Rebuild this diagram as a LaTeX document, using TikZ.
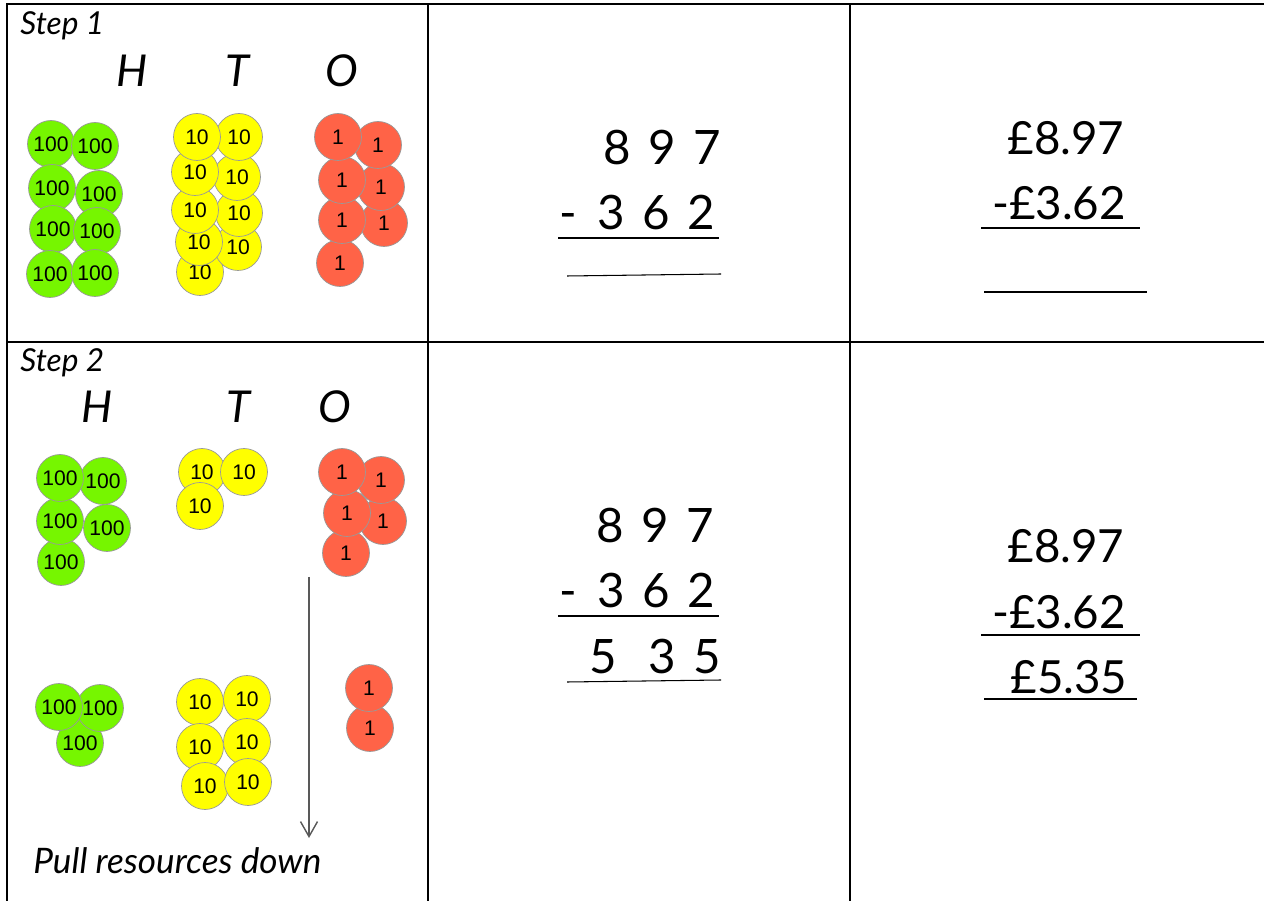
\documentclass[tikz,border=0pt]{standalone}
\usepackage{fontspec}
\setmainfont{Lato}
\newfontfamily\counterfont{Liberation Sans}
\usepackage{tikz}
\usetikzlibrary{arrows.meta,positioning}
\definecolor{hundredgreen}{RGB}{118,246,0}
\definecolor{tenyellow}{RGB}{255,255,0}
\definecolor{onered}{RGB}{255,99,71}
\newcommand{\dgap}{\hspace{10pt}}
\tikzset{
    gridline/.style={line width=1.2pt},
    counterbase/.style={circle, draw=black!40, line width=0.4pt, minimum size=0.94cm, inner sep=0pt, font=\counterfont\fontsize{12}{14}\selectfont},
    hundredcounter/.style={counterbase, fill=hundredgreen},
    tencounter/.style={counterbase, fill=tenyellow},
    onecounter/.style={counterbase, fill=onered},
    steplabel/.style={anchor=base west, inner sep=0pt, font=\itshape\fontsize{18}{22}\selectfont},
    columnhead/.style={anchor=base, inner sep=0pt, font=\itshape\fontsize{25}{30}\selectfont},
    sumrow/.style={anchor=base, inner sep=0pt, font=\fontsize{27}{32}\selectfont},
    moneyrow/.style={anchor=base, inner sep=0pt, font=\fontsize{26}{31}\selectfont},
    sumline/.style={line width=1.7pt},
    answerline/.style={line width=0.6pt},
    pullarrow/.style={-{Straight Barb[length=3mm, width=3.4mm]}, draw=black!65, line width=0.8pt}
}

\begin{document}
\begin{tikzpicture}[x=0.02cm, y=-0.02cm]
    \useasboundingbox (0,0) rectangle (1264,901);
    % table
    \draw[gridline] (6,4) -- (1264,4);
    \draw[gridline] (6,342) -- (1264,342);
    \draw[gridline] (7,4) -- (7,901);
    \draw[gridline] (428,4) -- (428,901);
    \draw[gridline] (850,4) -- (850,901);

    % step 1: place value counters
    \node[steplabel] (stepone) at (20,35) {Step 1};
    \node[columnhead] (headH1) at (132,87) {H};
    \node[columnhead] (headT1) at (237,87) {T};
    \node[columnhead] (headO1) at (342,87) {O};
    \foreach \px/\py [count=\k] in {51/144,95/146,52/188,99/194,53/229,97/231,50/274,95/273}
        \node[hundredcounter] (one-h\k) at (\px,\py) {100};
    \foreach \px/\py [count=\k] in {200/272,238/247,199/242,239/213,195/210,237/177,195/172,239/137,197/137}
        \node[tencounter] (one-t\k) at (\px,\py) {10};
    \foreach \px/\py [count=\k] in {340/263,384/223,342/220,381/187,342/180,378/145,338/137}
        \node[onecounter] (one-o\k) at (\px,\py) {1};

    % step 1: column method
    \node[sumrow] (topone) at (662,165) {8\dgap 9\dgap 7};
    \node[sumrow] (subone) at (637,230) {-\hspace{11.6pt}3\dgap 6\dgap 2};
    \draw[sumline] (558,238) -- (719,238);
    \draw[answerline] (567,276) -- (721,274);

    \node[moneyrow] (mtopone) at (1066,155) {£8.97};
    \node[moneyrow] (msubone) at (1059,220) {-£3.62};
    \draw[sumline] (981,228) -- (1140,228);
    \draw[answerline] (984,292) -- (1147,292);

    % step 2: counters before and after
    \node[steplabel] (steptwo) at (20,372) {Step 2};
    \node[columnhead] (headH2) at (97,423) {H};
    \node[columnhead] (headT2) at (238,423) {T};
    \node[columnhead] (headO2) at (335,423) {O};
    \foreach \px/\py [count=\k] in {61/562,107/528,60/521,103/481,60/478}
        \node[hundredcounter] (two-h\k) at (\px,\py) {100};
    \foreach \px/\py [count=\k] in {202/472,244/472,200/506}
        \node[tencounter] (two-t\k) at (\px,\py) {10};
    \foreach \px/\py [count=\k] in {346/553,383/521,347/513,381/480,342/472}
        \node[onecounter] (two-o\k) at (\px,\py) {1};

    \foreach \px/\py [count=\k] in {80/743,100/708,59/707}
        \node[hundredcounter] (left-h\k) at (\px,\py) {100};
    \foreach \px/\py [count=\k] in {200/702,247/699,200/747,247/742,205/786,248/782}
        \node[tencounter] (left-t\k) at (\px,\py) {10};
    \foreach \px/\py [count=\k] in {370/728,369/688}
        \node[onecounter] (left-o\k) at (\px,\py) {1};

    \coordinate (pulltop) at (309,577);
    \coordinate (pullend) at (309,838);
    \draw[pullarrow] (pulltop) -- (pullend);
    \node[anchor=base west, inner sep=0pt, font=\itshape\fontsize{20}{24}\selectfont] (pullnote) at (33,873) {Pull resources down};

    % step 2: column method with answer
    \node[sumrow] (toptwo) at (655,543) {8\dgap 9\dgap 7};
    \node[sumrow] (subtwo) at (637,608) {-\hspace{11.6pt}3\dgap 6\dgap 2};
    \draw[sumline] (558,616) -- (719,616);
    \node[sumrow] (anstwo) at (655,673) {5\hspace{18pt}3\dgap 5};
    \draw[answerline] (567,682) -- (721,680);

    \node[moneyrow] (mtoptwo) at (1066,563) {£8.97};
    \node[moneyrow] (msubtwo) at (1059,628) {-£3.62};
    \draw[sumline] (981,635) -- (1140,635);
    \node[moneyrow] (manstwo) at (1069,693) {£5.35};
    \draw[sumline] (984,699) -- (1137,699);
\end{tikzpicture}
\end{document}
